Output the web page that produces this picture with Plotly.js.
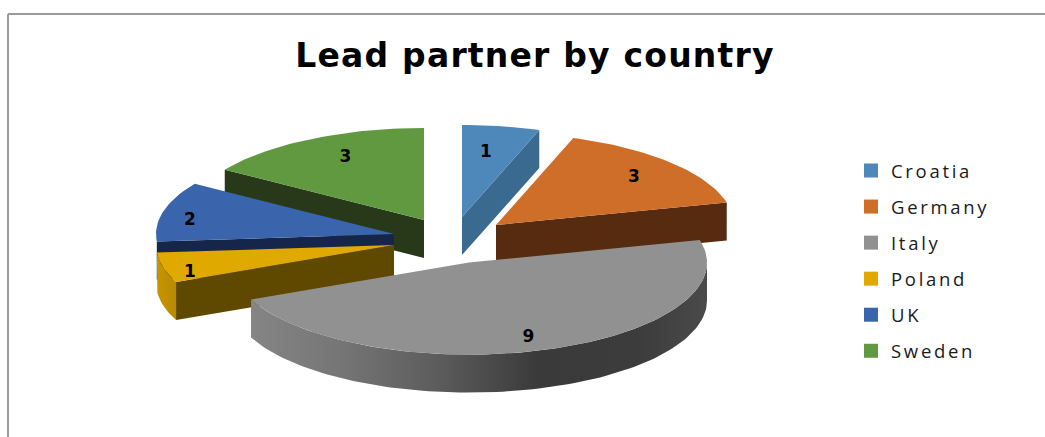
<!DOCTYPE html>
<html><head><meta charset="utf-8">
<script src="https://cdn.plot.ly/plotly-3.0.1.min.js"></script>
<style>
html,body{margin:0;padding:0;background:#fff;overflow:hidden}
#chart{width:1045px;height:437px}
.legendtext{letter-spacing:2.7px}
.gtitle{letter-spacing:1.2px}
</style></head><body><div id="chart"></div>
<script>
const categories = ['Croatia','Germany','Italy','Poland','UK','Sweden'];
const values = [1,3,9,1,2,3];
const topColors = ['#4e88bb','#cf6e28','#919191','#e0a900','#3a64ab','#60993f'];
const wallColors = ['#3b6a90','#562b0f','#3f3f3f','#5f4800','#15264a','#28391a'];
const outerGradients = {
  Italy: [[0,'#858585'],[0.2,'#757575'],[0.41,'#5c5c5c'],[0.63,'#3a3a3a'],[0.85,'#3c3c3c'],[1,'#4a4a4a']],
  Poland: [[0,'#c79500'],[1,'#b98a00']]
};
// pie projection, in pixel-sized axis units
const rx = 238, ry = 92, depth = 38;
const apexX = [462,496,469,394,394,424];
const apexY = [217,225,262.6,245,234,220];
const labelU = [0.10,0.58,0.25,-0.857,-0.857,-0.33];
const labelV = [-0.70,-0.51,0.82,0.30,-0.14,-0.68];
const paintOrder = [5,0,1,4,3,2];

const total = values.reduce((a,b)=>a+b,0);
const rad = d => d*Math.PI/180;
let acc = 0;
const spans = values.map(v => { const s=[acc, acc+v/total*360]; acc=s[1]; return s; });
const pt = (i,a,dz=0) => [apexX[i]+rx*Math.sin(rad(a)), apexY[i]-ry*Math.cos(rad(a))+dz];
function arc(i,a1,a2,dz=0){
  const n=Math.max(2,Math.ceil((a2-a1)/1.5)), out=[];
  for(let k=0;k<=n;k++) out.push(pt(i,a1+(a2-a1)*k/n,dz));
  return out;
}
function poly(points,color,extra){
  return Object.assign({type:'scatter',mode:'lines',x:points.map(p=>p[0]),y:points.map(p=>p[1]),
    fill:'toself',fillcolor:color,line:{width:0,color:color},hoverinfo:'skip',showlegend:false},extra||{});
}
const traces=[];
paintOrder.forEach(i=>{
  const [a1,a2]=spans[i];
  const radialAngle = a2<90 ? a2 : (a1>180 ? a1 : null);
  if(radialAngle!==null){
    const o=pt(i,radialAngle), b=pt(i,radialAngle,depth);
    traces.push(poly([[apexX[i],apexY[i]],o,b,[apexX[i],apexY[i]+depth]],wallColors[i]));
  }
  const fa1=Math.max(a1,90), fa2=Math.min(a2,270);
  if(fa1<fa2 && (fa2-fa1)>1 && outerGradients[categories[i]]){
    const front=arc(i,fa1,fa2), back=arc(i,fa1,fa2,depth).reverse();
    const xs=front.map(p=>p[0]);
    traces.push(poly(front.concat(back),wallColors[i],{
      fillgradient:{type:'horizontal',start:Math.min(...xs),stop:Math.max(...xs),colorscale:outerGradients[categories[i]]}
    }));
  }
  traces.push(poly([[apexX[i],apexY[i]]].concat(arc(i,a1,a2)),topColors[i]));
});
// value labels
traces.push({type:'scatter',mode:'text',
  x:categories.map((c,i)=>apexX[i]+labelU[i]*rx),
  y:categories.map((c,i)=>apexY[i]+labelV[i]*ry),
  text:values.map(String),textposition:'middle center',
  textfont:{family:'"DejaVu Sans",sans-serif',size:17,weight:700,color:'#000'},
  hoverinfo:'skip',showlegend:false});
// legend keys
categories.forEach((c,i)=>traces.push({type:'scatter',mode:'markers',x:[null],y:[null],name:c,
  legendgroup:c,marker:{symbol:'square',size:14,color:topColors[i]},hoverinfo:'skip'}));

const layout={
  width:1045,height:437,margin:{l:0,r:0,t:0,b:0},paper_bgcolor:'#fff',plot_bgcolor:'#fff',
  xaxis:{range:[0,1045],visible:false,fixedrange:true},
  yaxis:{range:[437,0],visible:false,fixedrange:true},
  title:{text:'<b>Lead partner by country</b>',x:535/1045,xanchor:'center',y:1-55/437,yanchor:'middle',
    font:{family:'"DejaVu Sans",sans-serif',size:33,color:'#000'}},
  legend:{x:851/1045,xanchor:'left',y:1-152/437,yanchor:'top',bgcolor:'rgba(0,0,0,0)',
    font:{family:'"Open Sans",sans-serif',size:18.5,color:'#1a1a1a'},tracegroupgap:9,itemclick:false,itemdoubleclick:false},
  shapes:[
    {type:'line',xref:'paper',yref:'paper',x0:8/1045,x1:1,y0:1-14/437,y1:1-14/437,line:{color:'#9b9b9b',width:2}},
    {type:'line',xref:'paper',yref:'paper',x0:8/1045,x1:8/1045,y0:1-14/437,y1:0,line:{color:'#9b9b9b',width:2}}
  ]
};
Plotly.newPlot('chart',traces,layout,{displayModeBar:false,staticPlot:true});
</script></body></html>
